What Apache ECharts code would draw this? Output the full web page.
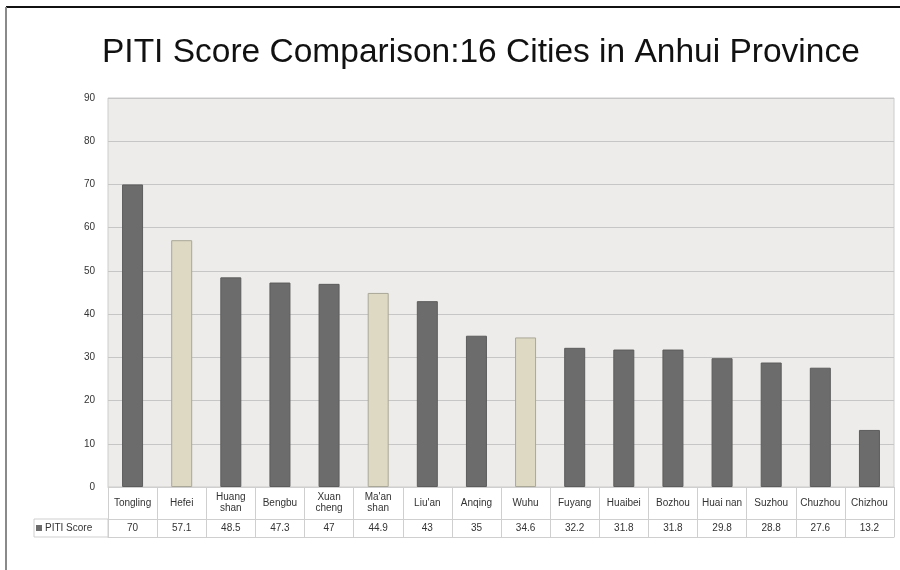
<!DOCTYPE html>
<html>
<head>
<meta charset="utf-8">
<script src="https://cdn.jsdelivr.net/npm/echarts@6/dist/echarts.min.js"></script>
<style>html,body{margin:0;padding:0;background:#fff;}#c{width:900px;height:570px;}</style>
</head>
<body>
<div id="c"></div>
<script>
var cities = ['Tongling', 'Hefei', 'Huang\nshan', 'Bengbu', 'Xuan\ncheng', "Ma'an\nshan", "Liu'an", 'Anqing', 'Wuhu', 'Fuyang', 'Huaibei', 'Bozhou', 'Huai nan', 'Suzhou', 'Chuzhou', 'Chizhou'];
var scores = [70, 57.1, 48.5, 47.3, 47, 44.9, 43, 35, 34.6, 32.2, 31.8, 31.8, 29.8, 28.8, 27.6, 13.2];
var highlighted = ['Hefei', "Ma'an\nshan", 'Wuhu'];
var yTicks = [0, 10, 20, 30, 40, 50, 60, 70, 80, 90];
var seriesName = 'PITI Score';

var darkColor = '#6c6c6c', darkBorder = '#5c5c5c';
var lightColor = '#ddd9c3', lightBorder = '#a9a797';
var tableLine = '#cfcfcf';
var font = '"Liberation Sans", Arial, sans-serif';

var chart = echarts.init(document.getElementById('c'), null, {renderer: 'canvas'});
var barData = scores.map(function (v, i) {
  var hl = highlighted.indexOf(cities[i]) >= 0;
  return {value: v, itemStyle: {color: hl ? lightColor : darkColor, borderColor: hl ? lightBorder : darkBorder, borderWidth: 1}};
});

chart.setOption({
  backgroundColor: '#ffffff',
  animation: false,
  title: {
    text: 'PITI Score Comparison:16 Cities in Anhui Province',
    left: 97, top: 31,
    textStyle: {fontFamily: font, fontSize: 33.5, fontWeight: 'normal', color: '#111'}
  },
  legend: {
    data: [seriesName],
    left: 36, top: 523,
    padding: 0,
    itemWidth: 6, itemHeight: 6,
    icon: 'rect',
    textStyle: {fontFamily: font, fontSize: 10, color: '#333', padding: [0, 0, 0, -2]}
  },
  grid: {
    left: 108, right: 6, top: 98, bottom: 83,
    show: true, backgroundColor: '#edecea', borderColor: '#cccccc', borderWidth: 1
  },
  xAxis: [
    {
      type: 'category', data: cities, position: 'bottom',
      axisLine: {show: true, lineStyle: {color: tableLine}},
      axisTick: {show: true, interval: 0, length: 50, lineStyle: {color: tableLine}},
      axisLabel: {interval: 0, margin: 16, verticalAlign: 'middle', fontFamily: font, fontSize: 10, lineHeight: 11, color: '#333'}
    },
    {
      type: 'category', data: cities, position: 'bottom', offset: 32,
      axisLine: {show: true, lineStyle: {color: tableLine}},
      axisTick: {show: false},
      axisLabel: {interval: 0, margin: 9, verticalAlign: 'middle', fontFamily: font, fontSize: 10, color: '#333',
        formatter: function (v, i) { return String(scores[i]); }}
    },
    {
      type: 'category', data: cities, position: 'bottom', offset: 50,
      axisLine: {show: true, lineStyle: {color: tableLine}},
      axisTick: {show: false}, axisLabel: {show: false}
    }
  ],
  yAxis: {
    type: 'value', min: yTicks[0], max: yTicks[yTicks.length - 1], interval: 10,
    axisLine: {show: false}, axisTick: {show: false},
    axisLabel: {margin: 13, fontFamily: font, fontSize: 10, color: '#333'},
    splitLine: {lineStyle: {color: '#c6c6c6', width: 1}}
  },
  series: [{
    name: seriesName, type: 'bar', xAxisIndex: 0,
    barWidth: 21,
    itemStyle: {color: darkColor},
    data: barData
  }],
  graphic: [
    {type: 'rect', shape: {x: 34, y: 519, width: 74, height: 18}, style: {fill: 'none', stroke: tableLine, lineWidth: 1}, silent: true},
    {type: 'line', shape: {x1: 6, y1: 7, x2: 900, y2: 7}, style: {stroke: '#111', lineWidth: 2}, silent: true},
    {type: 'line', shape: {x1: 6, y1: 7, x2: 6, y2: 570}, style: {stroke: '#8a8a8a', lineWidth: 2}, silent: true}
  ]
});
</script>
</body>
</html>
